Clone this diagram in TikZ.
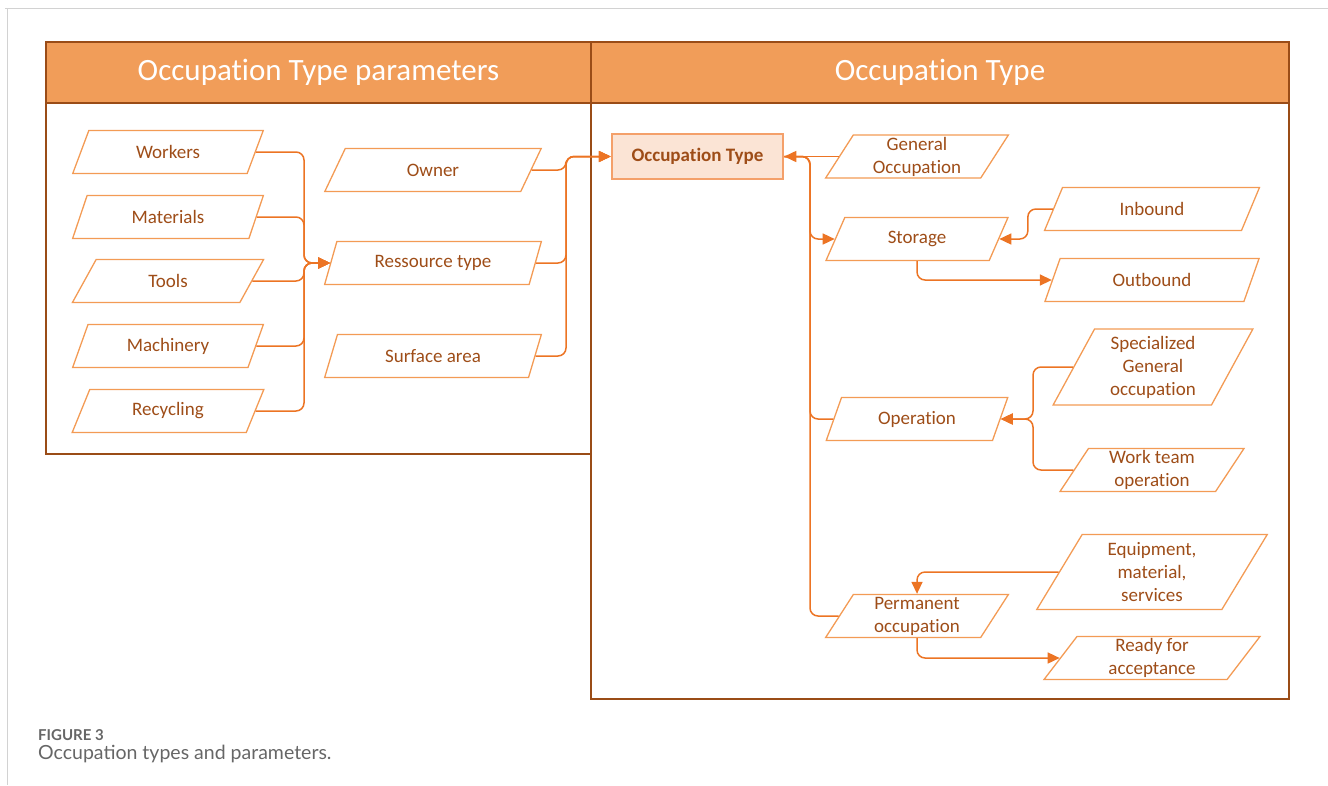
\documentclass[tikz,border=0pt]{standalone}
\usepackage{fontspec}
\setmainfont{Carlito}[Ligatures={NoCommon,NoContextual}]
\newfontfamily\capfont{Lato}
\usetikzlibrary{shapes.geometric,arrows.meta}

\definecolor{hdrfill}{HTML}{F19D59}
\definecolor{hdrline}{HTML}{9A4C17}
\definecolor{parline}{HTML}{F39B55}
\definecolor{conncol}{HTML}{EC7424}
\definecolor{txtcol}{HTML}{9E4D18}
\definecolor{otfill}{HTML}{FBE4D5}
\definecolor{otline}{HTML}{F4A06A}
\definecolor{capgray}{HTML}{666666}

\begin{document}
\begin{tikzpicture}[x=1pt, y=-1pt,
    para/.style={trapezium, trapezium left angle=64, trapezium right angle=116,
      trapezium stretches=true, draw=parline, line width=1.3pt, inner sep=0pt,
      minimum height=43pt, text=txtcol, align=center,
      font=\fontsize{19}{23}\selectfont},
    conn/.style={draw=conncol, line width=1.5pt, rounded corners=8pt,
      -{Triangle[length=12pt,width=11pt]}},
    plain/.style={draw=conncol, line width=1.5pt, rounded corners=8pt},
    panel/.style={draw=hdrline, line width=1.5pt},
    header/.style={fill=hdrfill, draw=hdrline, line width=1.5pt},
    hdrtext/.style={text=white, font=\fontsize{31}{35}\selectfont}]
    \useasboundingbox (0,0) rectangle (1328,785);

    % Page frame
    \draw[gray!35, line width=1pt] (5,8) -- (1328,8);
    \draw[gray!35, line width=1pt] (7,8) -- (7,785);

    % Panels
    \draw[header] (46,42) rectangle (591,103);
    \draw[panel] (46,103) rectangle (591,454);
    \draw[header] (591,42) rectangle (1289,103);
    \draw[panel] (591,103) rectangle (1289,699);
    \node[hdrtext] (hdrL) at (318.5,72) {Occupation Type parameters};
    \node[hdrtext] (hdrR) at (940,72) {Occupation Type};

    % Parameters
    \foreach \nm/\lbl/\y in {wrk/Workers/152, mat/Materials/217, tls/Tools/281,
        mach/Machinery/346, rec/Recycling/411}
      \node[para, minimum width=192pt] (\nm) at (168,\y) {\lbl};
    \node[para, minimum width=217pt] (own) at (433,170) {Owner};
    \node[para, minimum width=217pt] (res) at (433,263) {Ressource type};
    \node[para, minimum width=217pt] (surf) at (433,356) {Surface area};

    % Occupation type
    \node[draw=otline, fill=otfill, line width=2.5pt, minimum width=171pt,
      minimum height=45pt, text=txtcol, font=\fontsize{19}{23}\selectfont\bfseries]
      (ot) at (697.5,156.5) {Occupation Type};
    \node[para, minimum width=183pt] (gen) at (917,156.5) {General\\Occupation};
    \node[para, minimum width=183pt] (stor) at (917,239) {Storage};
    \node[para, minimum width=183pt] (op) at (917,419) {Operation};
    \node[para, minimum width=183pt] (perm) at (917,616) {Permanent\\occupation};
    \node[para, minimum width=216pt] (inb) at (1152,209) {Inbound};
    \node[para, minimum width=216pt] (outb) at (1152,280) {Outbound};
    \node[para, minimum width=200pt, minimum height=76pt] (spec) at (1153,367)
      {Specialized\\General\\occupation};
    \node[para, minimum width=184pt] (work) at (1152,470) {Work team\\operation};
    \node[para, minimum width=231pt, minimum height=75pt] (equip) at (1152,572)
      {Equipment,\\material,\\services};
    \node[para, minimum width=216pt] (ready) at (1152,658) {Ready for\\acceptance};

    % Connectors
    \coordinate (mergeL) at (304,263);
    \coordinate (mergeM) at (566,156.5);
    \coordinate (trunk) at (810,156.5);
    \coordinate (mergeO) at (1033,419);
    \foreach \nm in {wrk,mat,tls,mach,rec}
      \draw[conn] (\nm.right side) -| (mergeL) -- (res.left side);
    \foreach \nm in {own,res,surf}
      \draw[conn] (\nm.right side) -| (mergeM) -- (ot.west);
    \draw[conn] (gen.left side) -- (ot.east);
    \draw[conn] (ot.east) -- (trunk) |- (stor.left side);
    \draw[plain] (op.left side) -| (trunk) -- (ot.east);
    \draw[plain] (perm.left side) -| (trunk) -- (ot.east);
    \draw[conn] (inb.left side) -- ++(-25,0) |- (stor.right side);
    \draw[conn] (stor.south) |- (outb.left side);
    \draw[conn] (spec.left side) -| (mergeO) -- (op.right side);
    \draw[conn] (work.left side) -| (mergeO) -- (op.right side);
    \draw[conn] (equip.left side) -| (perm.north);
    \draw[conn] (perm.south) |- (ready.left side);

    % Caption
    \node[anchor=west, inner sep=0pt, text=capgray, font=\capfont\bfseries\fontsize{15}{17}\selectfont]
      (fig) at (38,735) {FIGURE 3};
    \node[anchor=west, inner sep=0pt, text=capgray, font=\capfont\fontsize{19.5}{22}\selectfont]
      (cap) at (38,754) {Occupation types and parameters.};
\end{tikzpicture}
\end{document}
